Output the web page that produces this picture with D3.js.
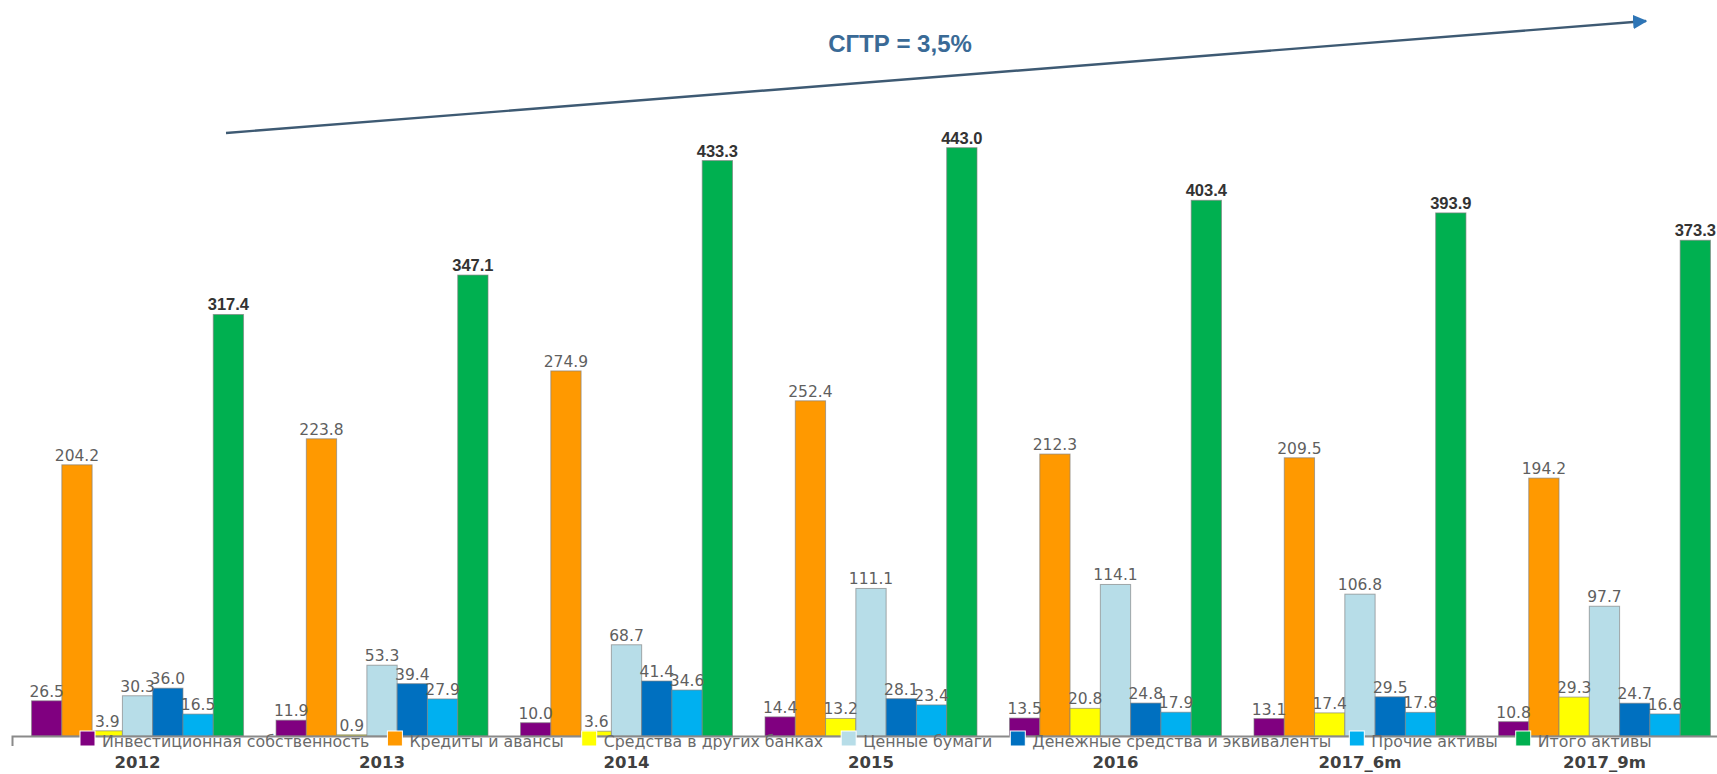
<!DOCTYPE html>
<html>
<head>
<meta charset="utf-8">
<script src="https://cdn.jsdelivr.net/npm/d3@7"></script>
<style>
  html, body { margin: 0; padding: 0; background: #fff; }
  svg { display: block; }
</style>
</head>
<body>
<svg id="chart" width="1717" height="774"></svg>
<script>
const categories = ["2012", "2013", "2014", "2015", "2016", "2017_6m", "2017_9m"];
const seriesNames = [
  "Инвестиционная собственность",
  "Кредиты и авансы",
  "Средства в других банках",
  "Ценные бумаги",
  "Денежные средства и эквиваленты",
  "Прочие активы",
  "Итого активы"
];
const seriesColors = ["#800080", "#FF9900", "#FFFF00", "#B7DDE8", "#0070C0", "#00B0F0", "#00B050"];
const investProperty = [26.5, 11.9, 10.0, 14.4, 13.5, 13.1, 10.8];
const loans          = [204.2, 223.8, 274.9, 252.4, 212.3, 209.5, 194.2];
const interbank      = [3.9, 0.9, 3.6, 13.2, 20.8, 17.4, 29.3];
const securities     = [30.3, 53.3, 68.7, 111.1, 114.1, 106.8, 97.7];
const cash           = [36.0, 39.4, 41.4, 28.1, 24.8, 29.5, 24.7];
const otherAssets    = [16.5, 27.9, 34.6, 23.4, 17.9, 17.8, 16.6];
const totalAssets    = [317.4, 347.1, 433.3, 443.0, 403.4, 393.9, 373.3];
const annotation = "СГТР = 3,5%";

const seriesValues = [investProperty, loans, interbank, securities, cash, otherAssets, totalAssets];
const rows = [];
categories.forEach((c, i) => {
  seriesValues.forEach((arr, s) => rows.push({cat: c, s: s, v: arr[i]}));
});

const svg = d3.select("#chart");
const baseY = 736;

const x = d3.scaleBand().domain(categories).range([12, 1730])
  .paddingInner(0.133).paddingOuter(0.08);
const xs = d3.scaleBand().domain(d3.range(seriesNames.length)).range([0, x.bandwidth()]);
const y = d3.scaleLinear().domain([0, 450]).range([baseY, baseY - 450 * 1.328]);

// trend arrow
const defs = svg.append("defs");
defs.append("marker").attr("id", "ah").attr("viewBox", "0 0 10 10")
  .attr("refX", 9).attr("refY", 5).attr("markerWidth", 6).attr("markerHeight", 6)
  .attr("markerUnits", "strokeWidth").attr("orient", "auto")
  .append("path").attr("d", "M0,0L10,5L0,10Z").attr("fill", "#2E75B6");
svg.append("line").attr("x1", 226).attr("y1", 133).attr("x2", 1646).attr("y2", 21)
  .attr("stroke", "#3E5A73").attr("stroke-width", 2.4).attr("marker-end", "url(#ah)");
svg.append("text").attr("x", 900).attr("y", 52).attr("text-anchor", "middle")
  .attr("font-family", "Liberation Sans, Arial, sans-serif").attr("font-weight", "bold")
  .attr("font-size", 24).attr("fill", "#3A6A96").text(annotation);

// bars
const g = svg.append("g");
g.selectAll("rect.bar").data(rows).join("rect").attr("class", "bar")
  .attr("x", d => x(d.cat) + xs(d.s))
  .attr("y", d => y(d.v))
  .attr("width", xs.bandwidth())
  .attr("height", d => y(0) - y(d.v))
  .attr("fill", d => seriesColors[d.s])
  .attr("stroke", "#7f7f7f").attr("stroke-opacity", 0.65).attr("stroke-width", 1);

// value labels
g.selectAll("text.val").data(rows).join("text").attr("class", "val")
  .attr("x", d => x(d.cat) + xs(d.s) + xs.bandwidth() / 2)
  .attr("y", d => y(d.v) - 4)
  .attr("text-anchor", "middle")
  .attr("font-family", d => d.s === 6 ? "Liberation Sans, Arial, sans-serif" : "DejaVu Sans, sans-serif")
  .attr("font-weight", d => d.s === 6 ? "bold" : "normal")
  .attr("font-size", d => d.s === 6 ? 16.5 : 15.5)
  .attr("fill", d => d.s === 6 ? "#333" : "#5f5f5f")
  .text(d => d3.format(".1f")(d.v));

// x axis
const axis = svg.append("g").attr("transform", `translate(0,${baseY})`)
  .call(d3.axisBottom(x).tickSize(0).tickSizeOuter(10).tickPadding(20));
axis.select(".domain").attr("stroke", "#8a8a8a").attr("stroke-width", 2);
axis.selectAll(".tick text")
  .attr("font-family", "DejaVu Sans, sans-serif").attr("font-weight", "bold")
  .attr("font-size", 16.5).attr("fill", "#404040");

// legend
const lg = svg.append("g");
let lx = 80;
seriesNames.forEach((name, i) => {
  lg.append("rect").attr("x", lx).attr("y", 731).attr("width", 15).attr("height", 15)
    .attr("fill", seriesColors[i]).attr("stroke", "#fff").attr("stroke-width", 1);
  const t = lg.append("text").attr("x", lx + 22).attr("y", 747)
    .attr("font-family", "DejaVu Sans, sans-serif").attr("font-size", 15.8)
    .attr("fill", "#6a6a6a").text(name);
  lx = lx + 22 + t.node().getComputedTextLength() + 18;
});
</script>
</body>
</html>
